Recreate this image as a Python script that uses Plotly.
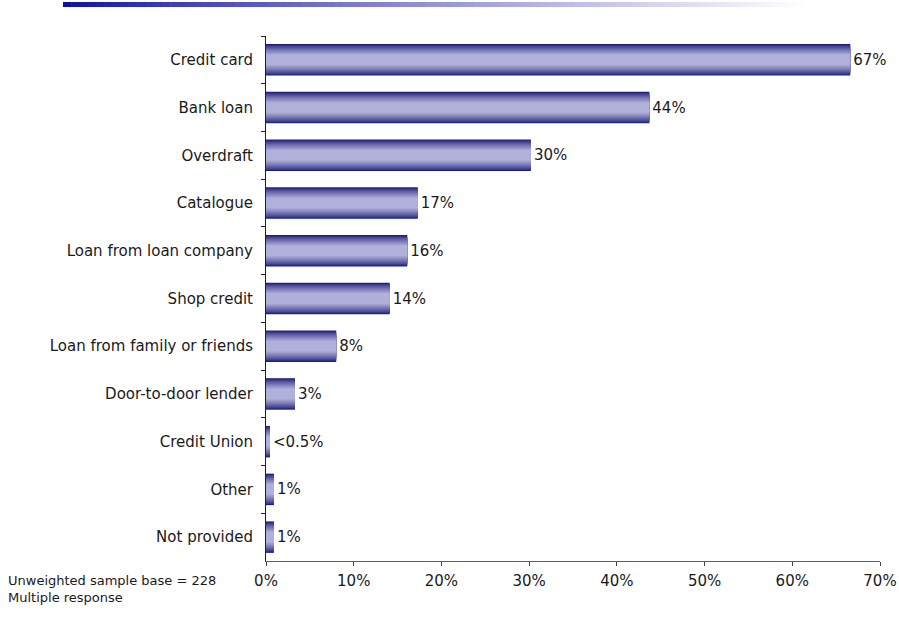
import plotly.graph_objects as go

# Sources of credit used (% of respondents, multiple response)
categories = [
    "Credit card", "Bank loan", "Overdraft", "Catalogue",
    "Loan from loan company", "Shop credit", "Loan from family or friends",
    "Door-to-door lender", "Credit Union", "Other", "Not provided",
]
values = [66.6, 43.7, 30.2, 17.3, 16.1, 14.1, 8.0, 3.3, 0.45, 0.9, 0.9]
x_ticks = [0, 10, 20, 30, 40, 50, 60, 70]

labels = [f"{round(v)}%" if v >= 0.5 else "<0.5%" for v in values]

FONT = "DejaVu Sans, Verdana, sans-serif"
FS = 15
W, H = 899, 630
L, R, T, B = 266, 19, 36, 69
PW, PH = W - L - R, H - T - B


def lerp(c1, c2, t):
    return "#" + "".join(f"{round(a + (b - a) * t):02x}" for a, b in zip(c1, c2))


fig = go.Figure()

# Cylinder-like shading: stacked bars, narrower and lighter towards the centre
edge, centre = (0x1e, 0x1e, 0x78), (0xb0, 0xb0, 0xda)
n_layers = 12
w_outer, w_inner = 0.66, 0.22
for i in range(n_layers):
    t = i / (n_layers - 1)
    fig.add_trace(go.Bar(
        x=values, y=categories, orientation="h",
        width=w_outer - (w_outer - w_inner) * t,
        marker=dict(color=lerp(edge, centre, t ** 0.8), line=dict(width=0)),
        hoverinfo="skip", showlegend=False,
    ))

# Value labels
fig.add_trace(go.Bar(
    x=values, y=categories, orientation="h", width=0.66,
    marker=dict(color="rgba(0,0,0,0)", line=dict(width=0)),
    text=labels, textposition="outside", cliponaxis=False,
    textfont=dict(family=FONT, size=FS, color="#1a1a1a"),
    showlegend=False,
))

# Decorative header rule fading from blue to white
shapes = []
x_start, x_end, y_top, y_bot = 63, 805, 2, 7
n_seg = 90
seg_w = (x_end - x_start) / n_seg
for i in range(n_seg):
    t = i / (n_seg - 1)
    col = lerp((0x10, 0x10, 0xa0), (0xff, 0xfc, 0xff), min(1.0, t ** 0.85))
    px0 = x_start + i * seg_w
    shapes.append(dict(
        type="rect", xref="paper", yref="paper",
        x0=(px0 - L) / PW, x1=(px0 + seg_w + 0.6 - L) / PW,
        y0=(H - B - y_bot) / PH, y1=(H - B - y_top) / PH,
        fillcolor=col, line=dict(width=0), layer="above",
    ))

fig.update_layout(
    width=W, height=H,
    margin=dict(l=L, r=R, t=T, b=B, pad=0, autoexpand=False),
    paper_bgcolor="white", plot_bgcolor="white",
    barmode="overlay",
    font=dict(family=FONT, size=FS, color="#1a1a1a"),
    shapes=shapes,
    xaxis=dict(
        range=[0, 70], tickvals=x_ticks, ticktext=[f"{v}%" for v in x_ticks],
        showgrid=False, zeroline=False, automargin=False,
        showline=True, linecolor="#606060", linewidth=1,
        ticks="outside", ticklen=4, tickcolor="#404040",
        ticklabelstandoff=2,
        tickfont=dict(family=FONT, size=FS, color="#1a1a1a"),
    ),
    yaxis=dict(
        categoryorder="array", categoryarray=categories, autorange="reversed",
        showgrid=False, zeroline=False, automargin=False,
        showline=True, linecolor="#202020", linewidth=1,
        ticks="outside", ticklen=4, tickcolor="#202020", tickson="boundaries",
        ticklabelstandoff=9,
        tickfont=dict(family=FONT, size=FS, color="#1a1a1a"),
    ),
    annotations=[
        dict(text="Unweighted sample base = 228<br>Multiple response",
             xref="paper", yref="paper", x=(6 - L) / PW, y=(H - B - 571) / PH,
             xanchor="left", yanchor="top", align="left", showarrow=False,
             font=dict(family=FONT, size=13, color="#1a1a1a")),
    ],
)

fig.write_html("out.html")
